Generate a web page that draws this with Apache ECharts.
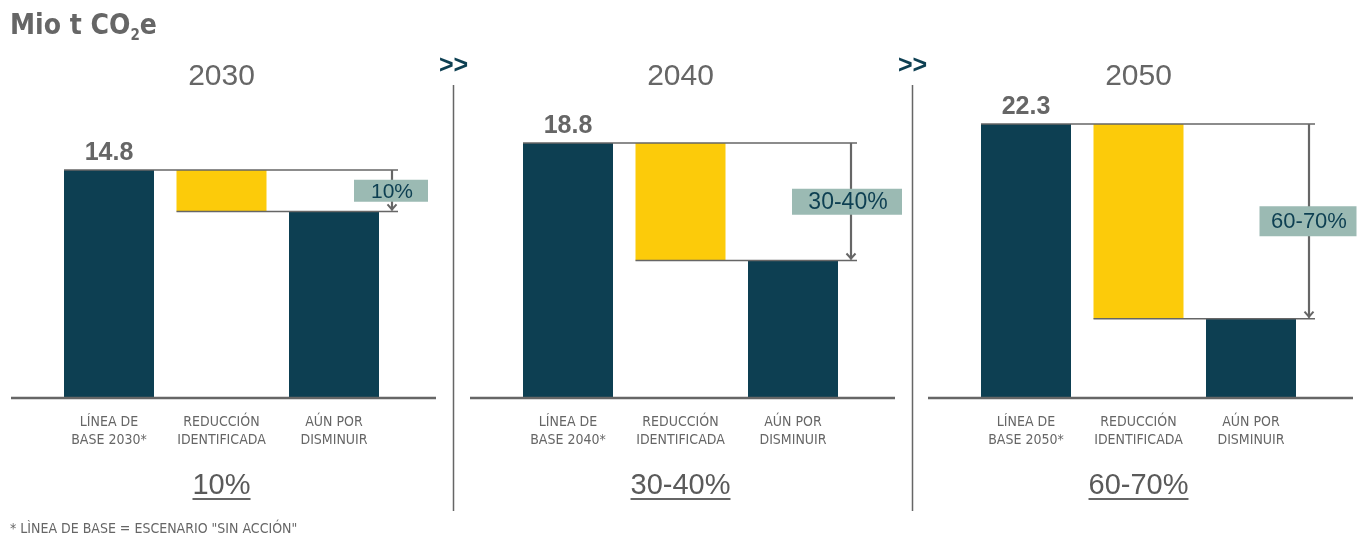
<!DOCTYPE html>
<html><head><meta charset="utf-8">
<script src="https://cdn.jsdelivr.net/npm/echarts@6/dist/echarts.min.js"></script>
<style>html,body{margin:0;padding:0;background:#fff}#c{width:1365px;height:539px}</style>
</head><body><div id="c"></div>
<script>
// ---------- data ----------
const years = ['2030', '2040', '2050'];
const categories = [
  ['LÍNEA DE\nBASE 2030*', 'REDUCCIÓN\nIDENTIFICADA', 'AÚN POR\nDISMINUIR'],
  ['LÍNEA DE\nBASE 2040*', 'REDUCCIÓN\nIDENTIFICADA', 'AÚN POR\nDISMINUIR'],
  ['LÍNEA DE\nBASE 2050*', 'REDUCCIÓN\nIDENTIFICADA', 'AÚN POR\nDISMINUIR']
];
const baseline = [14.8, 18.8, 22.3];
const reduction = [2.7, 8.7, 15.9];
const remaining = [12.1, 10.1, 6.4];
const reductionLabels = ['10%', '30-40%', '60-70%'];
const footnote = '* LÌNEA DE BASE = ESCENARIO "SIN ACCIÓN"';

// ---------- layout / style ----------
const DARK = '#0d3f52', YELLOW = '#fccb0a', BOXC = '#9bbab3', GREY = '#666666';
const NARROW = "'Liberation Sans Narrow','DejaVu Sans Condensed','Liberation Sans',sans-serif";
const SANS = "'Liberation Sans','Noto Sans',sans-serif";
const gridLeft = [52.75, 511.75, 969.75];
const gridW = 337.5;
const yMax = [20.67, 23.46, 25.9];
const boxW = [74, 110, 97], boxH = [22, 26, 30], boxFont = [21, 23, 22], boxDx = [-1, -4, -1];

const chart = echarts.init(document.getElementById('c'), null, {renderer: 'canvas'});

const grids = [], xAxes = [], yAxes = [], series = [];
for (let p = 0; p < 3; p++) {
  grids.push({left: gridLeft[p], width: gridW, top: 80, bottom: 142});
  xAxes.push({
    type: 'category', gridIndex: p, data: categories[p],
    axisLine: {show: false}, axisTick: {show: false},
    axisLabel: {color: GREY, fontFamily: NARROW, fontSize: 14, lineHeight: 18, margin: 16, interval: 0}
  });
  yAxes.push({type: 'value', gridIndex: p, min: 0, max: yMax[p], show: false, splitLine: {show: false}});
  const st = 'w' + p;
  series.push({
    type: 'bar', xAxisIndex: p, yAxisIndex: p, stack: st, barWidth: 90, silent: true,
    data: [baseline[p], '-', '-'], itemStyle: {color: DARK},
    label: {show: true, position: 'top', distance: 4, color: GREY, fontFamily: SANS,
      fontWeight: 'bold', fontSize: 25, formatter: (d) => d.value.toFixed(1)}
  });
  series.push({
    type: 'bar', xAxisIndex: p, yAxisIndex: p, stack: st, barWidth: 90, silent: true,
    data: ['-', remaining[p], '-'], itemStyle: {color: 'rgba(0,0,0,0)'}
  });
  series.push({
    type: 'bar', xAxisIndex: p, yAxisIndex: p, stack: st, barWidth: 90, silent: true,
    data: ['-', reduction[p], '-'], itemStyle: {color: YELLOW}
  });
  series.push({
    type: 'bar', xAxisIndex: p, yAxisIndex: p, stack: st, barWidth: 90, silent: true,
    data: ['-', '-', remaining[p]], itemStyle: {color: DARK}
  });
}

chart.setOption({
  animation: false,
  backgroundColor: '#fff',
  grid: grids, xAxis: xAxes, yAxis: yAxes, series: series
});

// ---------- decorations computed from the scales ----------
const g = [];
const axisEnds = [];
for (let p = 0; p < 3; p++) {
  const [cx0, yTop] = chart.convertToPixel({gridIndex: p}, [0, baseline[p]]);
  const [cx1, yLow] = chart.convertToPixel({gridIndex: p}, [1, remaining[p]]);
  const [cx2, y0] = chart.convertToPixel({gridIndex: p}, [2, 0]);
  const half = 45;
  const ax = cx2 + 58;
  axisEnds.push([cx0 - 98, cx2 + 102]);
  // axis line
  g.push({type: 'line', shape: {x1: cx0 - 98, y1: y0 + 1, x2: cx2 + 102, y2: y0 + 1},
    style: {stroke: GREY, lineWidth: 2.5}, z: 100});
  // connectors
  g.push({type: 'line', shape: {x1: cx0 - half, y1: yTop, x2: ax + 6, y2: yTop},
    style: {stroke: GREY, lineWidth: 1.5}, z: 100});
  g.push({type: 'line', shape: {x1: cx1 - half, y1: yLow, x2: ax + 6, y2: yLow},
    style: {stroke: GREY, lineWidth: 1.5}, z: 100});
  // arrow
  g.push({type: 'line', shape: {x1: ax, y1: yTop, x2: ax, y2: yLow - 1},
    style: {stroke: GREY, lineWidth: 2.2}, z: 100});
  g.push({type: 'polyline', shape: {points: [[ax - 4.5, yLow - 7], [ax, yLow - 2], [ax + 4.5, yLow - 7]]},
    style: {stroke: GREY, lineWidth: 2, fill: null}, z: 100});
  // label box
  const bx = ax + boxDx[p], by = (yTop + yLow) / 2;
  g.push({type: 'rect', shape: {x: bx - boxW[p] / 2, y: by - boxH[p] / 2, width: boxW[p], height: boxH[p]},
    style: {fill: BOXC}, z: 101});
  g.push({type: 'text', x: bx + 1, y: by + 1, z: 102,
    style: {text: reductionLabels[p], fill: DARK, font: boxFont[p] + 'px ' + SANS, align: 'center', verticalAlign: 'middle'}});
  // year title
  g.push({type: 'text', x: cx1, y: 77, z: 102,
    style: {text: years[p], fill: GREY, font: '30px ' + SANS, align: 'center', verticalAlign: 'middle'}});
  // bottom underlined percentage
  g.push({type: 'text', x: cx1, y: 486, z: 102,
    style: {text: reductionLabels[p], fill: '#5a5a5a', font: '29px ' + SANS, align: 'center', verticalAlign: 'middle'}});
  const tw = echarts.format.getTextRect ? echarts.format.getTextRect(reductionLabels[p], '29px ' + SANS).width : 60;
  g.push({type: 'line', shape: {x1: cx1 - tw / 2, y1: 499, x2: cx1 + tw / 2, y2: 499},
    style: {stroke: GREY, lineWidth: 1.8}, z: 102});
}
// dividers and >>
for (let p = 0; p < 2; p++) {
  const dx = Math.round((axisEnds[p][1] + axisEnds[p + 1][0]) / 2) + 0.5;
  g.push({type: 'line', shape: {x1: dx, y1: 85, x2: dx, y2: 511}, style: {stroke: GREY, lineWidth: 1.5}, z: 100});
  g.push({type: 'text', x: dx, y: 66, z: 102,
    style: {text: '>>', fill: DARK, font: 'bold 25px ' + SANS, align: 'center', verticalAlign: 'middle'}});
}
// unit title
g.push({type: 'text', x: 10, y: 10, z: 102,
  style: {
    text: '{a|Mio t CO}{s|2}{a|e}',
    rich: {
      a: {fontFamily: NARROW, fontWeight: 'bold', fontSize: 28, lineHeight: 34, fill: GREY, color: GREY},
      s: {fontFamily: NARROW, fontWeight: 'bold', fontSize: 15, lineHeight: 11, verticalAlign: 'bottom', fill: GREY, color: GREY}
    }
  }});
// footnote
g.push({type: 'text', x: 10, y: 529, z: 102,
  style: {text: footnote, fill: GREY, font: '14px ' + NARROW, align: 'left', verticalAlign: 'middle'}});

chart.setOption({graphic: g});
</script>
</body></html>
